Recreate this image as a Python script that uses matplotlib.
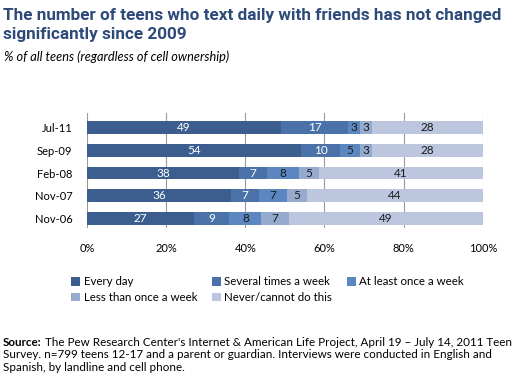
import matplotlib.pyplot as plt
import numpy as np

# data
periods = ["Jul-11", "Sep-09", "Feb-08", "Nov-07", "Nov-06"]
series = ["Every day", "Several times a week", "At least once a week",
          "Less than once a week", "Never/cannot do this"]
every_day = [49, 54, 38, 36, 27]
several = [17, 10, 7, 7, 9]
once_week = [3, 5, 8, 7, 8]
less_once = [3, 3, 5, 5, 7]
never = [28, 28, 41, 44, 49]
xticks = [0, 20, 40, 60, 80, 100]

colors = ["#3c5e8e", "#4a72a8", "#5b86c0", "#95aacc", "#bcc7df"]
txt_colors = ["white", "white", "#1a1a1a", "#1a1a1a", "#1a1a1a"]

fig = plt.figure(figsize=(5.18, 3.8), dpi=100)
ax = fig.add_axes([0.168, 0.40, 0.764, 0.3026])

vals = np.array([every_day, several, once_week, less_once, never], dtype=float)
totals = vals.sum(axis=0)
shares = vals / totals * 100  # 100% stacked

y = np.arange(len(periods))
left = np.zeros(len(periods))
handles = []
for i in range(len(series)):
    b = ax.barh(y, shares[i], left=left, height=0.57, color=colors[i],
                label=series[i], zorder=2)
    handles.append(b)
    for j in range(len(periods)):
        ax.text(left[j] + shares[i][j] / 2, y[j], "%d" % vals[i][j],
                ha="center", va="center", fontsize=8.5, color=txt_colors[i],
                family="Lato", zorder=3)
    left += shares[i]

ax.set_xlim(0, 100)
ax.set_ylim(4.42, -0.64)
ax.set_yticks(y)
ax.set_yticklabels(periods, family="Lato", fontsize=8)
ax.set_xticks(xticks)
ax.set_xticklabels(["%d%%" % t for t in xticks], family="Lato", fontsize=8)
ax.tick_params(length=0)
ax.tick_params(axis="x", pad=10.5)
ax.tick_params(axis="y", pad=10.5)
ax.grid(axis="x", color="#9a9a9a", lw=0.8, zorder=0)
for s in ax.spines.values():
    s.set_visible(False)

order = [0, 3, 1, 4, 2]
leg = fig.legend([handles[k] for k in order], [series[k] for k in order],
                 ncol=3, loc="upper left", bbox_to_anchor=(0.118, 0.30),
                 frameon=False, prop={"family": "Lato", "size": 8.3},
                 handlelength=0.75, handleheight=0.75, handletextpad=0.3,
                 columnspacing=1.3, labelspacing=0.4)

r = fig.canvas.get_renderer()

# title and subtitle: size them to the width the original uses
title = fig.text(0.006, 0.978, "The number of teens who text daily with friends has not changed\nsignificantly since 2009",
                 ha="left", va="top", fontsize=12, fontweight="bold", color="#2d4a78",
                 family="Roboto", linespacing=1.3)
w = title.get_window_extent(renderer=r).width
title.set_fontsize(12 * 498 / w)

sub = fig.text(0.008, 0.868, "% of all teens (regardless of cell ownership)",
               ha="left", va="top", fontsize=8.5, style="italic", family="Lato")
w = sub.get_window_extent(renderer=r).width
sub.set_fontsize(8.5 * 224 / w)

src_y = [0.100, 0.066, 0.032]
t0 = fig.text(0.006, src_y[0], "Source:", ha="left", va="center", fontsize=8.4,
              fontweight="bold", family="Lato")
bb = t0.get_window_extent(renderer=r)
x1 = (bb.x1 + 3) / fig.bbox.width
fig.text(x1, src_y[0], "The Pew Research Center's Internet & American Life Project, April 19 \u2013 July 14, 2011 Teen",
         ha="left", va="center", fontsize=8.4, family="Lato")
fig.text(0.006, src_y[1], "Survey. n=799 teens 12-17 and a parent or guardian. Interviews were conducted in English and",
         ha="left", va="center", fontsize=8.4, family="Lato")
fig.text(0.006, src_y[2], "Spanish, by landline and cell phone.",
         ha="left", va="center", fontsize=8.4, family="Lato")

fig.savefig("out.png", dpi=100)
